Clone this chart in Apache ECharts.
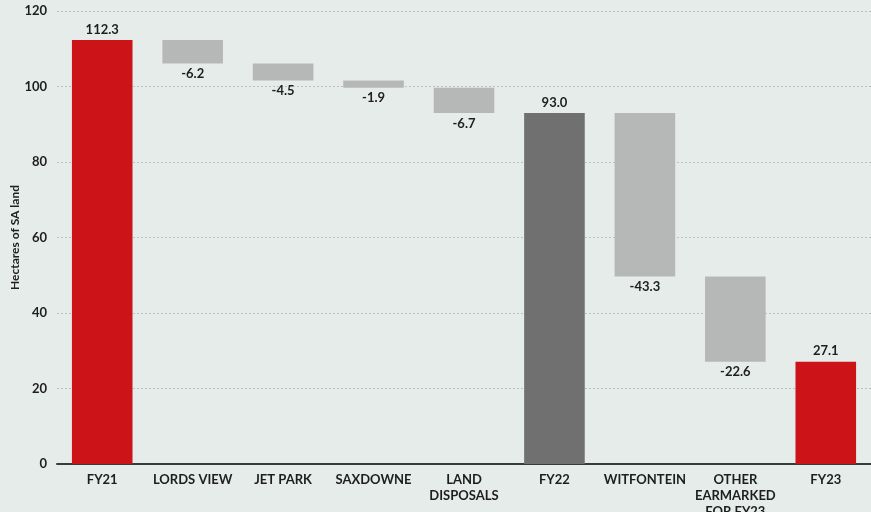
<!DOCTYPE html>
<html>
<head>
<meta charset="utf-8">
<script src="https://cdn.jsdelivr.net/npm/echarts@6/dist/echarts.min.js"></script>
<style>
  html, body { margin: 0; padding: 0; background: #e6ecea; }
  #chart { width: 871px; height: 512px; }
</style>
</head>
<body>
<div id="chart"></div>
<script>
  // categories and changes (totals are marked in isTotal)
  var categories = ['FY21', 'LORDS VIEW', 'JET PARK', 'SAXDOWNE', 'LAND\nDISPOSALS', 'FY22', 'WITFONTEIN', 'OTHER\nEARMARKED\nFOR FY23', 'FY23'];
  var values = [112.3, -6.2, -4.5, -1.9, -6.7, 93.0, -43.3, -22.6, 27.1];
  var isTotal = [true, false, false, false, false, true, false, false, true];
  var totalColors = ['#cc1418', null, null, null, null, '#6f706f', null, null, '#cc1418'];
  var yTicks = [0, 20, 40, 60, 80, 100, 120];

  // build transparent base + visible part
  var base = [], shown = [];
  var running = 0;
  for (var i = 0; i < values.length; i++) {
    if (isTotal[i]) {
      running = values[i];
      base.push(0);
      shown.push({ value: values[i], itemStyle: { color: totalColors[i] }, label: { position: 'top' } });
    } else {
      var next = running + values[i];
      base.push(+next.toFixed(1));
      shown.push({ value: -values[i], raw: values[i], itemStyle: { color: '#b6b8b7' }, label: { position: 'bottom' } });
      running = next;
    }
  }

  var myChart = echarts.init(document.getElementById('chart'));
  var font = 'Lato';
  myChart.setOption({
    backgroundColor: '#e6ecea',
    animation: false,
    grid: { left: 57, right: 0, top: 11, bottom: 48, containLabel: false, outerBoundsMode: 'none' },
    xAxis: {
      type: 'category',
      data: categories,
      axisLine: { lineStyle: { color: '#3a3a3a', width: 2 } },
      axisTick: { show: false },
      axisLabel: {
        interval: 0,
        color: '#1e1e1e',
        fontFamily: font,
        fontWeight: 'bold',
        fontSize: 13,
        lineHeight: 16,
        margin: 8
      }
    },
    yAxis: {
      type: 'value',
      min: yTicks[0],
      max: yTicks[yTicks.length - 1],
      interval: 20,
      name: 'Hectares of SA land',
      nameLocation: 'middle',
      nameGap: 36,
      nameMoveOverlap: false,
      nameTextStyle: { color: '#1e1e1e', fontFamily: font, fontWeight: 'bold', fontSize: 12 },
      axisLine: { show: false },
      axisTick: { show: false },
      axisLabel: { color: '#1e1e1e', fontFamily: font, fontWeight: 'bold', fontSize: 13, margin: 10 },
      splitLine: { lineStyle: { color: '#bcc0be', type: [2, 2], width: 1 } }
    },
    series: [
      {
        type: 'bar',
        stack: 'w',
        data: base,
        itemStyle: { color: 'transparent' },
        silent: true,
        barWidth: '67%'
      },
      {
        type: 'bar',
        stack: 'w',
        data: shown,
        barWidth: '67%',
        label: {
          show: true,
          color: '#1e1e1e',
          fontFamily: font,
          fontWeight: 'bold',
          fontSize: 13,
          distance: 4,
          formatter: function (p) {
            var v = p.data.raw !== undefined ? p.data.raw : p.data.value;
            return v.toFixed(1);
          }
        }
      }
    ]
  });
  window.addEventListener('resize', function () { myChart.resize(); });
</script>
</body>
</html>
